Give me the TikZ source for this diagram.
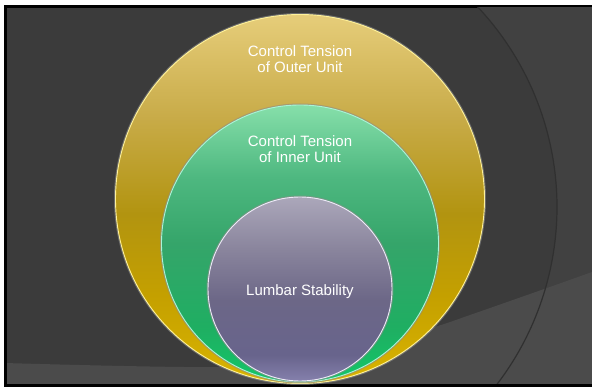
\documentclass[tikz,border=0pt]{standalone}
\usepackage{fontspec}
\setmainfont{Liberation Sans}
\definecolor{bgdark}{HTML}{3B3B3B}
\definecolor{bgright}{HTML}{414141}
\definecolor{bgband}{HTML}{4B4B4B}
\definecolor{arcline}{HTML}{303030}
\definecolor{goldrim}{HTML}{FFF29A}
\definecolor{greenrim}{HTML}{A8F5D8}
\definecolor{corerim}{HTML}{EEEAF8}
\pgfdeclareverticalshading{goldshade}{100bp}{color(0bp)=(rgb,255:red,218;green,180;blue,0);
  color(25bp)=(rgb,255:red,218;green,180;blue,0); color(37bp)=(rgb,255:red,196;green,160;blue,0);
  color(48bp)=(rgb,255:red,178;green,148;blue,16); color(61bp)=(rgb,255:red,200;green,171;blue,72);
  color(75bp)=(rgb,255:red,230;green,205;blue,122); color(100bp)=(rgb,255:red,230;green,205;blue,122)}
\pgfdeclareverticalshading{greenshade}{100bp}{color(0bp)=(rgb,255:red,18;green,199;blue,104);
  color(25bp)=(rgb,255:red,18;green,199;blue,104); color(35bp)=(rgb,255:red,31;green,174;blue,98);
  color(50bp)=(rgb,255:red,53;green,165;blue,106); color(62bp)=(rgb,255:red,78;green,184;blue,128);
  color(75bp)=(rgb,255:red,134;green,223;blue,170); color(100bp)=(rgb,255:red,134;green,223;blue,170)}
\pgfdeclareverticalshading{coreshade}{100bp}{color(0bp)=(rgb,255:red,133;green,128;blue,172);
  color(25bp)=(rgb,255:red,133;green,128;blue,172); color(32bp)=(rgb,255:red,104;green,100;blue,140);
  color(47bp)=(rgb,255:red,108;green,103;blue,135); color(61bp)=(rgb,255:red,138;green,133;blue,157);
  color(75bp)=(rgb,255:red,171;green,167;blue,186); color(100bp)=(rgb,255:red,171;green,167;blue,186)}
\begin{document}
\begin{tikzpicture}[x=1pt,y=-1pt,
  ring/.style={circle,inner sep=0pt,line width=0.9pt,
   preaction={draw=black!45,line width=3pt,opacity=0.6}},
  every node/.style={font=\fontsize{15}{16}\selectfont,text=white,align=center}]
  \useasboundingbox (0,0) rectangle (592,387);
  \fill[white] (0,0) rectangle (592,387);
  \fill[black] (4,5) rectangle (592,387);
  \begin{scope}
   \clip (7,8) rectangle (592,384);
   \fill[bgdark] (7,8) rectangle (592,384);
   \fill[bgright] (265,207) ++(-50:292) arc[start angle=-50,end angle=45,radius=292]
    -- (600,400) -- (600,0) -- cycle;
   \fill[bgband] plot[smooth] coordinates {(4,363) (220,367) (330,356) (431,328)
    (470,315) (547,288) (592,272)} -- (592,384) -- (4,384) -- cycle;
   \draw[arcline,line width=1.2pt] (265,207) ++(-50:292) arc[start angle=-50,end angle=45,radius=292];
  \end{scope}
  \node[ring,minimum size=369pt,shading=goldshade,draw=goldrim] (outer) at (300,199) {};
  \node[ring,minimum size=277pt,shading=greenshade,draw=greenrim] (inner) at (300,243.5) {};
  \node[ring,minimum size=184pt,shading=coreshade,draw=corerim] (core) at (300,289) {};
  \node (outerlabel) at (300,59.3) {Control Tension\\of Outer Unit};
  \node (innerlabel) at (300,148.7) {Control Tension\\of Inner Unit};
  \node (corelabel) at (300,291.2) {Lumbar Stability};
\end{tikzpicture}
\end{document}
